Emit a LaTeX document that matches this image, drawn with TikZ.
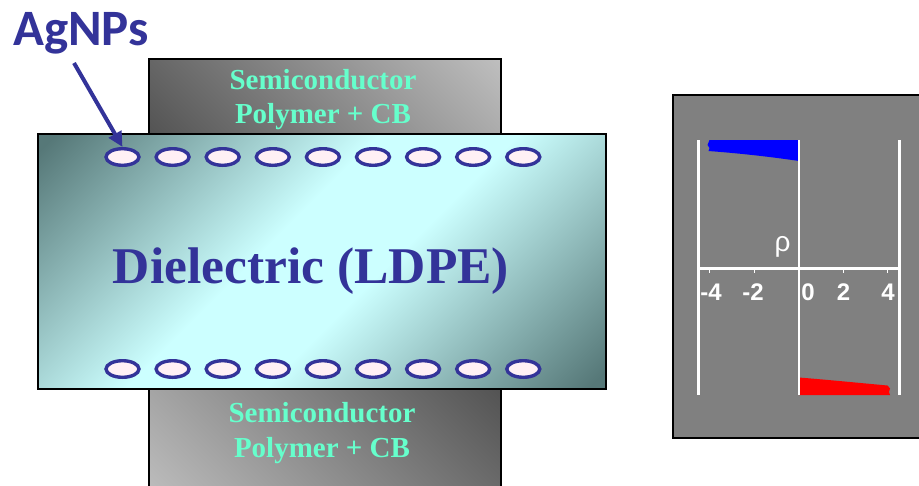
\documentclass[tikz,border=0pt]{standalone}
\usepackage{fontspec}
\setmainfont{Liberation Serif}
\newfontfamily\calibrifont{Carlito}
\newfontfamily\arialfont{Liberation Sans}
\usetikzlibrary{shapes.geometric,arrows.meta}
\definecolor{navy}{RGB}{51,51,153}
\definecolor{aqua}{RGB}{102,255,204}
\definecolor{dielDark}{RGB}{86,120,120}
\definecolor{dielLight}{RGB}{204,255,255}
\definecolor{npFill}{RGB}{255,240,245}
\definecolor{semiLight}{RGB}{190,190,190}
\definecolor{semiDark}{RGB}{84,84,84}
\definecolor{panelGray}{RGB}{128,128,128}
\pgfdeclareverticalshading{semiup}{100bp}{color(0bp)=(semiDark); color(15bp)=(semiDark); color(85bp)=(semiLight); color(100bp)=(semiLight)}
\pgfdeclareverticalshading{semidown}{100bp}{color(0bp)=(semiLight); color(15bp)=(semiLight); color(85bp)=(semiDark); color(100bp)=(semiDark)}
\pgfdeclareverticalshading{dielshade}{100bp}{color(0bp)=(dielDark); color(16bp)=(dielDark); color(44bp)=(dielLight); color(56bp)=(dielLight); color(84bp)=(dielDark); color(100bp)=(dielDark)}
\begin{document}
\begin{tikzpicture}[x=1pt,y=-1pt,
  semibox/.style={draw=black, line width=2pt, minimum width=352pt, inner sep=0pt},
  semitext/.style={text=aqua, font=\bfseries\fontsize{29}{34.5}\selectfont, align=center, inner sep=0pt},
  np/.style={ellipse, draw=navy, fill=npFill, line width=3.4pt, minimum width=33pt, minimum height=16.6pt, inner sep=0pt},
  axisline/.style={white, line width=2.7pt},
  ticklabel/.style={text=white, font=\arialfont\bfseries\fontsize{24}{28}\selectfont, anchor=base, inner sep=0pt}]
\useasboundingbox (0,0) rectangle (919,485);
\clip (0,0) rectangle (919,485);
% semiconductor boxes
\node[semibox, minimum height=75pt, shading=semiup, shading angle=-45] (topbox) at (325,96.5) {};
\node[semibox, minimum height=112pt, shading=semidown, shading angle=-45] (botbox) at (324.5,445) {};
% dielectric
\node[draw=black, line width=2pt, minimum width=568pt, minimum height=255pt, inner sep=0pt,
  shading=dielshade, shading angle=45] (diel) at (322,261.5) {};
\node[semitext] (toptext) at (323,99.5) {Semiconductor\\Polymer + CB};
\node[semitext] (bottext) at (322,433) {Semiconductor\\Polymer + CB};
\node[text=navy, font=\bfseries\fontsize{51.5}{60}\selectfont, anchor=base, inner sep=0pt] (dieltext) at (311,283) {Dielectric (LDPE)};
% nanoparticles
\foreach \i in {0,...,8} {
  \node[np] (e\i) at (122.5+50.1*\i,157) {};
  \node[np] (b\i) at (122.5+50.1*\i,369) {};
}
% label and arrow
\node[text=navy, font=\calibrifont\bfseries\fontsize{51}{60}\selectfont, anchor=base, inner sep=0pt] (agnps) at (81,45) {AgNPs};
\coordinate (astart) at (74,63);
\draw[navy, line width=4pt, -{Triangle[length=15pt,width=14pt]}] (astart) -- (e0.north);
% charge density panel
\node[draw=black, line width=2pt, fill=panelGray, minimum width=268pt, minimum height=343pt, inner sep=0pt] (panel) at (806.5,266) {};
\fill[blue] (709.5,140) -- (799,140) -- (799,161) .. controls (765,156) and (735,153) .. (708.5,151) -- (709.5,148) -- (707.5,145) -- cycle;
\fill[red] (799,377.5) .. controls (830,380) and (860,383) .. (887.5,385.5) -- (890,388.5) -- (889,392) -- (890,395) -- (799,395) -- cycle;
\draw[axisline] (698.3,140) -- (698.3,395);
\draw[axisline] (899.3,140) -- (899.3,395);
\draw[white, line width=2pt] (798.8,140) -- (798.8,395);
\draw[axisline] (698.3,268.3) -- (899.3,268.3);
\foreach \x in {709.3,754.3,843,887.7} \draw[white, line width=1pt] (\x,268.3) -- (\x,273);
\node[ticklabel] (lm4) at (711,300) {-4};
\node[ticklabel] (lm2) at (753,300) {-2};
\node[ticklabel] (l0) at (808,300) {0};
\node[ticklabel] (l2) at (843.5,300) {2};
\node[ticklabel] (l4) at (888,300) {4};
\node[text=white, font=\arialfont\fontsize{28}{32}\selectfont, anchor=base, inner sep=0pt] (rho) at (782.5,251) {ρ};
\end{tikzpicture}
\end{document}
